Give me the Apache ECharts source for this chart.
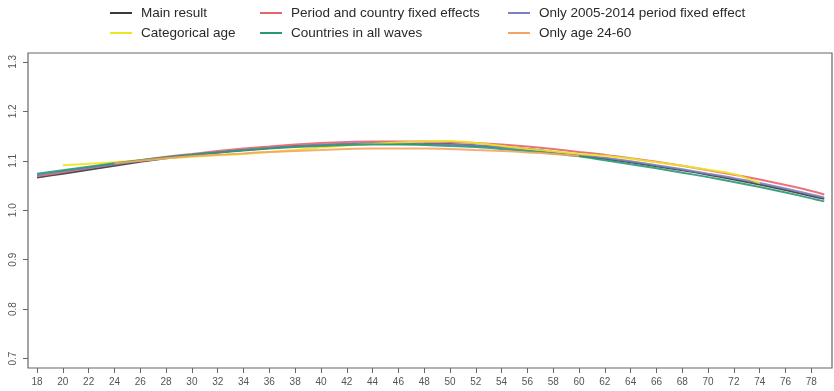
<!DOCTYPE html>
<html>
<head>
<meta charset="utf-8">
<script src="https://cdn.jsdelivr.net/npm/echarts@6/dist/echarts.min.js"></script>
<style>
  html, body { margin: 0; padding: 0; background: #fff; }
  #chart { width: 834px; height: 391px; }
</style>
</head>
<body>
<div id="chart"></div>
<script>
// Predicted values by age for each model specification
const agesFull = [18,20,22,24,26,28,30,32,34,36,38,40,42,44,46,48,50,52,54,56,58,60,62,64,66,68,70,72,74,76,78,79];
const mainResult = [1.066,1.074,1.082,1.090,1.098,1.105,1.111,1.117,1.122,1.126,1.130,1.132,1.134,1.135,1.135,1.135,1.134,1.131,1.128,1.124,1.118,1.110,1.104,1.097,1.089,1.081,1.072,1.062,1.052,1.041,1.029,1.023];
const periodCountry = [1.069,1.077,1.085,1.093,1.101,1.108,1.114,1.120,1.125,1.129,1.133,1.136,1.138,1.139,1.139,1.139,1.138,1.136,1.133,1.129,1.124,1.118,1.112,1.105,1.098,1.090,1.081,1.072,1.062,1.051,1.039,1.032];
const only2005 = [1.071,1.079,1.086,1.093,1.100,1.106,1.112,1.117,1.122,1.126,1.129,1.132,1.134,1.135,1.135,1.134,1.133,1.131,1.127,1.123,1.118,1.112,1.106,1.099,1.091,1.083,1.074,1.065,1.055,1.044,1.032,1.026];
const countriesAll = [1.074,1.081,1.088,1.095,1.101,1.107,1.112,1.117,1.121,1.125,1.128,1.130,1.132,1.133,1.133,1.132,1.130,1.128,1.124,1.120,1.115,1.109,1.101,1.093,1.085,1.076,1.067,1.057,1.047,1.036,1.024,1.018];

const agesCat = [20,22,24,26,28,30,32,34,36,38,40,42,44,46,48,50,52,54,56,58,60,62,64,66,68,70,72,74];
const categoricalAge = [1.091,1.094,1.097,1.101,1.105,1.108,1.111,1.114,1.118,1.122,1.127,1.131,1.134,1.137,1.139,1.140,1.136,1.130,1.124,1.119,1.114,1.110,1.104,1.097,1.090,1.082,1.073,1.055];

const ages2460 = [24,26,28,30,32,34,36,38,40,42,44,46,48,50,52,54,56,58,60];
const onlyAge2460 = [1.095,1.100,1.105,1.109,1.112,1.115,1.118,1.120,1.122,1.124,1.125,1.125,1.125,1.124,1.122,1.120,1.117,1.114,1.110];

const xTicks = [18,20,22,24,26,28,30,32,34,36,38,40,42,44,46,48,50,52,54,56,58,60,62,64,66,68,70,72,74,76,78];
const yTicks = [0.7,0.8,0.9,1.0,1.1,1.2,1.3];

const seriesDefs = [
  { name: 'Main result', x: agesFull, y: mainResult, color: '#3a3a3a' },
  { name: 'Period and country fixed effects', x: agesFull, y: periodCountry, color: '#e8646c' },
  { name: 'Only 2005-2014 period fixed effect', x: agesFull, y: only2005, color: '#7b80c2' },
  { name: 'Categorical age', x: agesCat, y: categoricalAge, color: '#f0e420' },
  { name: 'Countries in all waves', x: agesFull, y: countriesAll, color: '#2a9876' },
  { name: 'Only age 24-60', x: ages2460, y: onlyAge2460, color: '#f4a462' }
];

const pair = (xs, ys) => xs.map((a, i) => [a, ys[i]]);

// Legend: three columns, two rows
const legendCols = [110, 260, 508];
const legendRows = [6, 26];
const legends = seriesDefs.map((s, i) => ({
  data: [s.name],
  left: legendCols[i % 3],
  top: legendRows[Math.floor(i / 3)],
  icon: 'rect',
  itemWidth: 22,
  itemHeight: 2,
  selectedMode: false,
  padding: 0,
  textStyle: { fontFamily: 'Liberation Sans, Arial', fontSize: 13.5, color: '#2a2a2a', padding: [0, 0, 0, 4] }
}));

const chart = echarts.init(document.getElementById('chart'), null, { renderer: 'canvas' });
chart.setOption({
  animation: false,
  backgroundColor: '#fff',
  legend: legends,
  grid: {
    left: 28, right: 2, top: 53, bottom: 23,
    show: true, borderColor: '#666', borderWidth: 1.2, backgroundColor: 'transparent'
  },
  xAxis: {
    type: 'value', min: 17.3, max: 79.6,
    splitLine: { show: false },
    axisLine: { show: false },
    axisTick: { show: true, length: 5, customValues: xTicks, lineStyle: { color: '#666' } },
    axisLabel: { customValues: xTicks, margin: 9, fontFamily: 'Liberation Sans, Arial', fontSize: 10, color: '#555' }
  },
  yAxis: {
    type: 'value', min: 0.681, max: 1.318,
    splitLine: { show: false },
    axisLine: { show: false },
    axisTick: { show: true, length: 5, customValues: yTicks, lineStyle: { color: '#666' } },
    axisLabel: {
      customValues: yTicks, rotate: 90, margin: 10,
      fontFamily: 'Liberation Sans, Arial', fontSize: 10, color: '#555',
      formatter: v => (Math.round(v * 10) / 10).toFixed(1)
    }
  },
  series: seriesDefs.map(s => ({
    name: s.name,
    type: 'line',
    data: pair(s.x, s.y),
    smooth: 0.3,
    symbol: 'none',
    color: s.color,
    lineStyle: { width: 2, color: s.color, opacity: 0.9 }
  }))
});
</script>
</body>
</html>
